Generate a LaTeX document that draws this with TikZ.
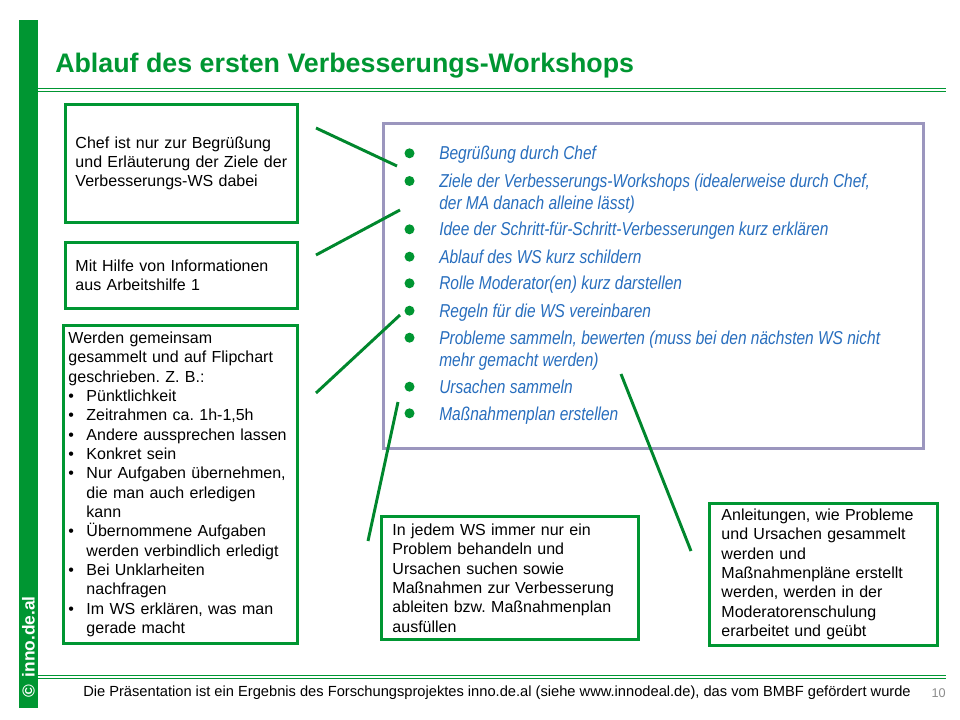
\documentclass[tikz,border=0pt]{standalone}
\usepackage{fontspec}
\setmainfont{Liberation Sans}
\newfontfamily\listfont{Liberation Sans}[FakeStretch=0.83]
\usetikzlibrary{positioning}
\frenchspacing
\definecolor{inngreen}{RGB}{0,150,50}
\definecolor{listblue}{RGB}{40,110,190}
\definecolor{framegray}{RGB}{155,150,190}
\newcommand{\dotitem}{\makebox[13.5pt][l]{\textbullet}}
\newcommand{\dotcont}{\hspace*{13.5pt}}
\tikzset{
  notebox/.style = {draw=inngreen, line width=2.2pt, anchor=north west, align=left,
                    font=\fontsize{12}{14.5}\selectfont, inner ysep=0pt},
  listbox/.style = {draw=framegray, line width=2pt, anchor=north west, inner sep=0pt},
  leader/.style  = {draw=inngreen!90!black, line width=2.2pt},
  bul/.style     = {circle, fill=inngreen, inner sep=0pt, minimum size=7.5pt},
  entry/.style   = {anchor=base west, align=left, inner sep=0pt, text=listblue,
                    font=\listfont\itshape\fontsize{14}{16.5}\selectfont},
  sepline/.style = {draw=inngreen, line width=0.75pt, double=white, double distance=1.5pt},
}
\begin{document}
\begin{tikzpicture}[x=0.75pt,y=-0.75pt]
  \useasboundingbox (0,0) rectangle (960,720);
  \fill[white] (0,0) rectangle (960,720);
  \fill[inngreen] (19,20) rectangle (37.5,708);
  \node[rotate=90, anchor=west, inner sep=0pt, text=white,
        font=\bfseries\fontsize{13}{13}\selectfont] (copy) at (28.5,698) {©\, inno.de.al};
  \node[anchor=base west, inner sep=0pt, text=inngreen,
        font=\bfseries\fontsize{20.1}{24}\selectfont] (title) at (55,72.7)
        {Ablauf des ersten Verbesserungs-Workshops};
  \coordinate (top-l) at (37.5,90.3);  \coordinate (top-r) at (946,90.3);
  \coordinate (bot-l) at (37.5,676.8); \coordinate (bot-r) at (946,676.8);
  \draw[sepline] (top-l) -- (top-r);
  \draw[sepline] (bot-l) -- (bot-r);
  \node[anchor=west, inner sep=0pt, font=\fontsize{11}{13}\selectfont] (foot) at (83,693)
        {Die Präsentation ist ein Ergebnis des Forschungsprojektes inno.de.al (siehe www.innodeal.de), das vom BMBF gefördert wurde};
  \node[anchor=east, inner sep=0pt, text=black!45, font=\fontsize{9.5}{11}\selectfont] (page) at (946,693) {10};

  \node[notebox, inner xsep=7.5pt, text width=159pt, minimum height=88.5pt] (chef) at (64,103)
        {Chef ist nur zur Begrüßung\\und Erläuterung der Ziele der\\Verbesserungs-WS dabei};
  \node[notebox, inner xsep=7.5pt, text width=159pt, minimum height=49.5pt] (hilfe) at (64,241)
        {Mit Hilfe von Informationen\\aus Arbeitshilfe 1};
  \node[notebox, inner xsep=3.75pt, text width=168pt, minimum height=238.5pt] (regeln) at (62,324)
        {Werden gemeinsam\\gesammelt und auf Flipchart\\geschrieben. Z. B.:\\
         \dotitem Pünktlichkeit\\
         \dotitem Zeitrahmen ca. 1h-1,5h\\
         \dotitem Andere aussprechen lassen\\
         \dotitem Konkret sein\\
         \dotitem Nur Aufgaben übernehmen,\\\dotcont die man auch erledigen\\\dotcont kann\\
         \dotitem Übernommene Aufgaben\\\dotcont werden verbindlich erledigt\\
         \dotitem Bei Unklarheiten\\\dotcont nachfragen\\
         \dotitem Im WS erklären, was man\\\dotcont gerade macht};
  \node[notebox, inner xsep=8.25pt, text width=176.25pt, minimum height=92.25pt] (problem) at (380,515)
        {In jedem WS immer nur ein\\Problem behandeln und\\Ursachen suchen sowie\\Maßnahmen zur Verbesserung\\ableiten bzw. Maßnahmenplan\\ausfüllen};
  \node[notebox, inner xsep=9pt, text width=153pt, minimum height=106.5pt] (schulung) at (708,502)
        {Anleitungen, wie Probleme\\und Ursachen gesammelt\\werden und\\Maßnahmenpläne erstellt\\werden, werden in der\\Moderatorenschulung\\erarbeitet und geübt};

  \node[listbox, minimum width=405pt, minimum height=243.75pt] (ablauf) at (382,122) {};
  \foreach \y/\n/\txt [count=\i] in {153.3/0/{Begrüßung durch Chef},
      181/1/{Ziele der Verbesserungs-Workshops (idealerweise durch Chef,\\der MA danach alleine lässt)},
      229.3/0/{Idee der Schritt-für-Schritt-Verbesserungen kurz erklären},
      256.7/0/{Ablauf des WS kurz schildern},
      283.3/0/{Rolle Moderator(en) kurz darstellen},
      310.7/0/{Regeln für die WS vereinbaren},
      337.7/1/{Probleme sammeln, bewerten (muss bei den nächsten WS nicht\\mehr gemacht werden)},
      386.7/0/{Ursachen sammeln},
      413.3/0/{Maßnahmenplan erstellen}}{
    \node[bul] (dot\i) at (409.5,\y) {};
    \node[entry] (item\i) at (439,\y+6.7+22*\n) {\txt};
  }

  \coordinate (l1s) at (316,128); \coordinate (l1e) at (397,166);
  \coordinate (l2s) at (316,255); \coordinate (l2e) at (400,210);
  \coordinate (l3s) at (316,393); \coordinate (l3e) at (400,315);
  \coordinate (l4s) at (368,541); \coordinate (l4e) at (398,402);
  \coordinate (l5s) at (621,374); \coordinate (l5e) at (691,551);
  \foreach \k in {1,...,5}{
    \draw[leader] (l\k s) -- (l\k e);}
\end{tikzpicture}
\end{document}
